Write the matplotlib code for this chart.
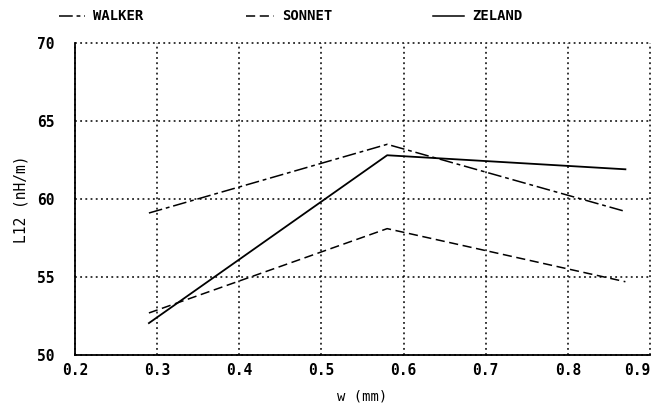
import matplotlib
matplotlib.use('Agg')
import matplotlib.pyplot as plt
from matplotlib.lines import Line2D

# datos
w = [0.29, 0.58, 0.87]
walker = [59.1, 63.5, 59.2]
sonnet = [52.7, 58.1, 54.7]
zeland = [52.05, 62.8, 61.9]

xticks = [0.2, 0.3, 0.4, 0.5, 0.6, 0.7, 0.8, 0.9]
yticks = [50, 55, 60, 65, 70]

plt.rcParams['font.family'] = 'DejaVu Sans Mono'
plt.rcParams['font.weight'] = 'bold'

fig = plt.figure(figsize=(6.52, 4.04), dpi=100)
ax = fig.add_axes([0.115, 0.121, 0.882, 0.773])

st_walker = (0, (9, 2.5, 2.5, 2.5))
st_sonnet = (0, (6, 3))
ax.plot(w, walker, c='k', lw=1.1, ls=st_walker)
ax.plot(w, sonnet, c='k', lw=1.1, ls=st_sonnet)
ax.plot(w, zeland, c='k', lw=1.3, ls='-')

ax.set_xlim(0.2, 0.9)
ax.set_ylim(50, 70)
ax.set_xticks(xticks)
ax.set_yticks(yticks)
ax.set_xticklabels(['%.1f' % t for t in xticks], fontsize=10.5)
ax.set_yticklabels([str(t) for t in yticks], fontsize=10.5)
ax.get_xticklabels()[-1].set_ha('right')
ax.tick_params(axis='x', length=0, pad=6)
ax.tick_params(axis='y', length=0, pad=15)
ax.grid(True, color='k', ls=(0, (1.2, 2.2)), lw=1.1)
for gl in ax.get_xgridlines() + ax.get_ygridlines():
    gl.set_clip_on(False)
ax.spines['top'].set_visible(False)
ax.spines['right'].set_visible(False)
ax.spines['left'].set_linewidth(1.3)
ax.spines['bottom'].set_linewidth(1.3)
ax.set_axisbelow(True)

ax.set_xlabel('w (mm)', fontsize=10, labelpad=8)
ax.set_ylabel('L12 (nH/m)', fontsize=10.5, labelpad=6)

# leyenda arriba
leg = [(0.090, 0.130, 'WALKER', st_walker), (0.378, 0.420, 'SONNET', st_sonnet),
       (0.664, 0.712, 'ZELAND', '-')]
for x0, x1, txt, ls in leg:
    fig.add_artist(Line2D([x0, x1], [0.961, 0.961], color='k', lw=1.1, ls=ls,
                          transform=fig.transFigure))
    fig.text(x1 + 0.012, 0.961, txt, fontsize=10, va='center', ha='left')

fig.savefig('out.png', dpi=100)
